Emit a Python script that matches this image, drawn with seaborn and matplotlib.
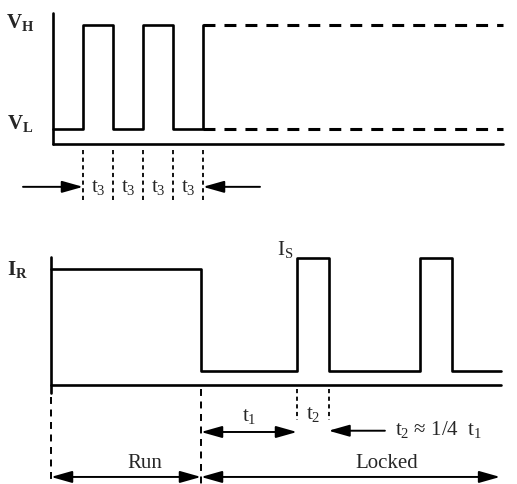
import matplotlib
matplotlib.use("Agg")
import seaborn as sns
import matplotlib.pyplot as plt

# top trace: voltage, edges in units of t3
v_edges = [0, 1, 2, 3, 4, 5]
v_levels = [0.13, 1.0, 0.13, 1.0, 0.13, 1.0]
v_low, v_high = 0.13, 1.0
t_end = 15

# bottom trace: current
i_edges = [0, 5, 8.2, 9.25, 12.3, 13.35, 15]
i_levels = [0.91, 0.11, 1.0, 0.11, 1.0, 0.11, 0.11]

sns.set_style("white")
plt.rcParams['font.family'] = ['Liberation Serif', 'DejaVu Serif']
plt.rcParams['mathtext.default'] = 'regular'
plt.rcParams['lines.scale_dashes'] = False

fig = plt.figure(figsize=(5.17, 4.84), dpi=100)
ax1 = fig.add_axes([0, 1 - 230 / 484, 1, 230 / 484])
ax2 = fig.add_axes([0, 0, 1, 254 / 484])
ax1.set_xlim(-53 / 30, (517 - 53) / 30)
ax1.set_ylim(-(230 - 144) / 119, 144 / 119)
ax2.set_xlim(-51 / 30, (517 - 51) / 30)
ax2.set_ylim(-(484 - 385) / 127, (385 - 230) / 127)
for ax in (ax1, ax2):
    ax.axis('off')

lw = 1.9
head = '-|>,head_length=0.85,head_width=0.24'
head2 = '<|-|>,head_length=0.85,head_width=0.24'
arrow_kw = dict(color='k', lw=1.4, shrinkA=0, shrinkB=0, mutation_scale=15)
fs = 15

# ---- top panel ----
ax1.plot([0, 0], [0, 1.10], color='k', lw=lw)
ax1.plot([0, t_end], [0, 0], color='k', lw=lw)
sns.lineplot(x=v_edges, y=v_levels, ax=ax1, color='k', linewidth=lw,
             drawstyle='steps-post', estimator=None, sort=False, legend=False)
for lvl in (v_high, v_low):
    sns.lineplot(x=[v_edges[-1], t_end], y=[lvl, lvl], ax=ax1, color='k',
                 linewidth=2.2, linestyle=(0, (8.6, 6.5)), estimator=None)

ax1.text(-1.1, 1.02, 'V$_H$', fontsize=fs, ha='center', va='center', fontweight='bold')
ax1.text(-1.1, 0.17, 'V$_L$', fontsize=fs, ha='center', va='center', fontweight='bold')

for e in v_edges[1:]:
    ax1.plot([e, e], [-0.05, -0.48], color='k', lw=1.3, linestyle=(0, (3, 2.5)))
for a, b in zip(v_edges[1:-1], v_edges[2:]):
    ax1.text((a + b) / 2, -0.40, 't$_3$', fontsize=fs, ha='center', va='baseline')
ax1.annotate('', xy=(v_edges[1], -0.36), xytext=(-1.0, -0.36),
             arrowprops=dict(arrowstyle=head, **arrow_kw))
ax1.annotate('', xy=(v_edges[-1], -0.36), xytext=(6.9, -0.36),
             arrowprops=dict(arrowstyle=head, **arrow_kw))

# ---- bottom panel ----
ax2.plot([0, 0], [-0.063, 1.008], color='k', lw=lw)
ax2.plot([0, t_end], [0, 0], color='k', lw=lw)
sns.lineplot(x=i_edges, y=i_levels, ax=ax2, color='k', linewidth=lw,
             drawstyle='steps-post', estimator=None, sort=False, legend=False)

ax2.text(-1.13, 0.913, 'I$_R$', fontsize=fs, ha='center', va='center', fontweight='bold')
ax2.text(7.8, 1.07, 'I$_S$', fontsize=fs, ha='center', va='center')

ax2.plot([0, 0], [-0.094, -0.78], color='k', lw=1.4, linestyle=(0, (5, 4)))
ax2.plot([5, 5], [-0.03, -0.78], color='k', lw=1.4, linestyle=(0, (5, 4)))
for e in i_edges[2:4]:
    ax2.plot([e, e], [-0.03, -0.276], color='k', lw=1.3, linestyle=(0, (3, 2.5)))

ax2.text((i_edges[1] + i_edges[2]) / 2, -0.283, 't$_1$', fontsize=fs, ha='center', va='baseline')
ax2.text((i_edges[2] + i_edges[3]) / 2, -0.268, 't$_2$', fontsize=fs, ha='center', va='baseline')
ax2.annotate('', xy=(i_edges[2], -0.37), xytext=(i_edges[1], -0.37),
             arrowprops=dict(arrowstyle=head2, **arrow_kw))
ax2.annotate('', xy=(i_edges[3], -0.36), xytext=(11.13, -0.36),
             arrowprops=dict(arrowstyle=head, **arrow_kw))
ax2.text(11.47, -0.394, 't$_2$ ≈ 1/4  t$_1$', fontsize=fs, ha='left', va='baseline')

ax2.text(3.13, -0.654, 'Run', fontsize=fs, ha='center', va='baseline')
ax2.text(11.2, -0.654, 'Locked', fontsize=fs, ha='center', va='baseline')
ax2.annotate('', xy=(5, -0.724), xytext=(0, -0.724),
             arrowprops=dict(arrowstyle=head2, **arrow_kw))
ax2.annotate('', xy=(14.97, -0.724), xytext=(5, -0.724),
             arrowprops=dict(arrowstyle=head2, **arrow_kw))

fig.savefig('out.png', dpi=100)
